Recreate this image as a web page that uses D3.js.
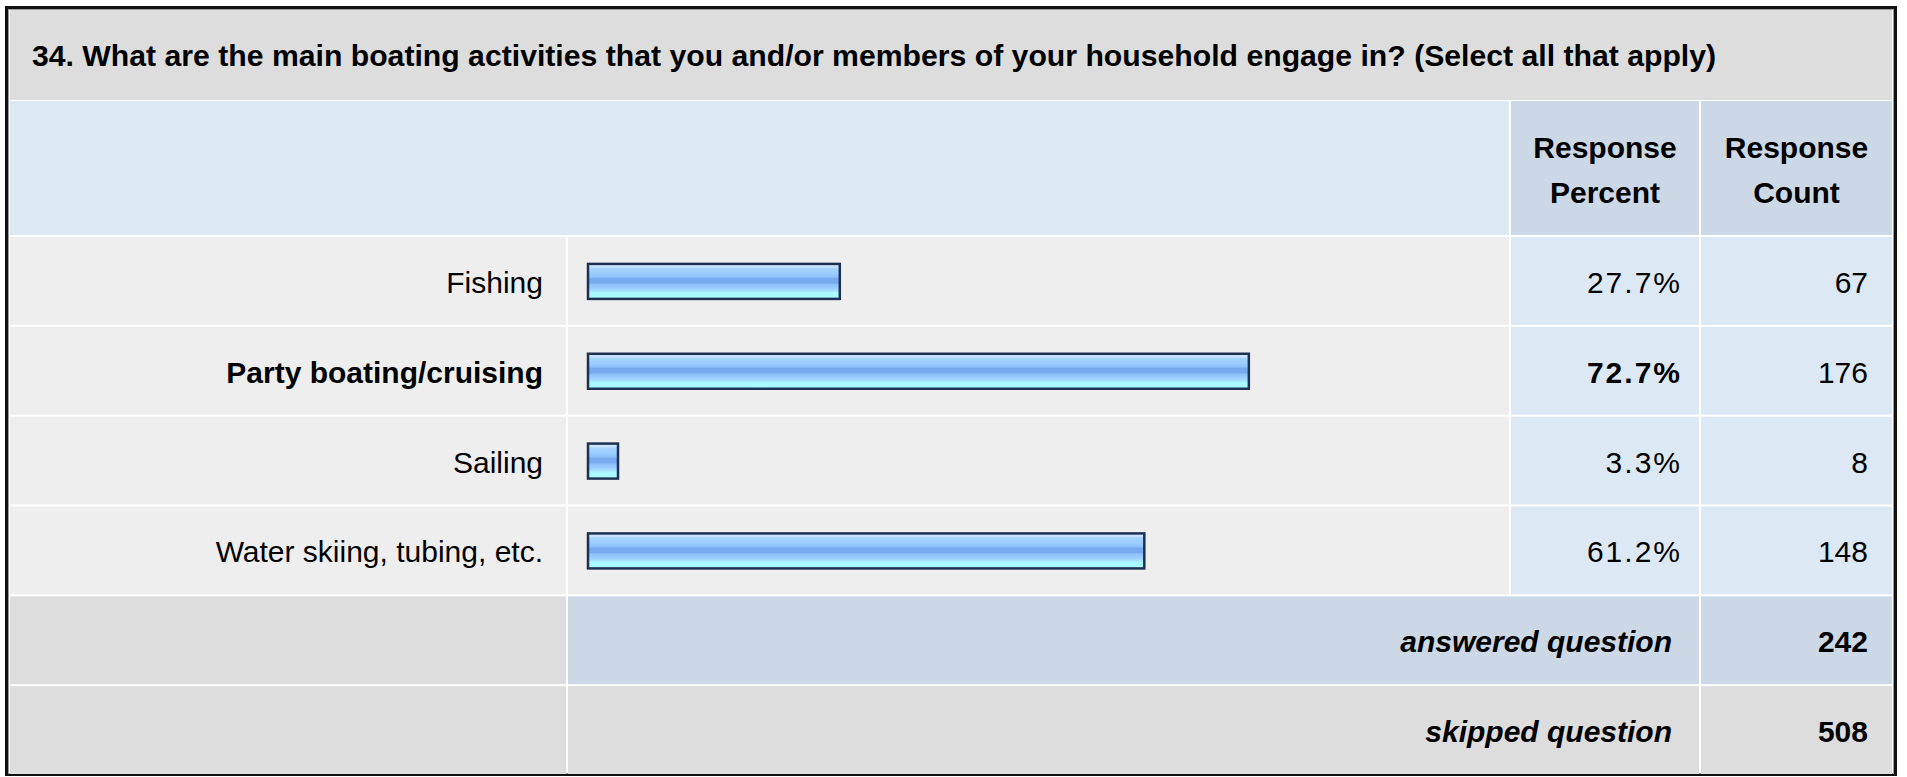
<!DOCTYPE html>
<html>
<head>
<meta charset="utf-8">
<script src="https://cdn.jsdelivr.net/npm/d3@7/dist/d3.min.js"></script>
<style>
  html, body { margin: 0; padding: 0; background: #ffffff; }
  svg { display: block; font-family: "Liberation Sans", Arial, Helvetica, sans-serif; }
</style>
</head>
<body>
<svg id="chart" width="1907" height="777"></svg>
<script>
// ---- data ----
const title = "34. What are the main boating activities that you and/or members of your household engage in? (Select all that apply)";
const categories = ["Fishing", "Party boating/cruising", "Sailing", "Water skiing, tubing, etc."];
const percents = [27.7, 72.7, 3.3, 61.2];
const counts = [67, 176, 8, 148];
const headerPercent = ["Response", "Percent"];
const headerCount = ["Response", "Count"];
const summaryLabels = ["answered question", "skipped question"];
const summaryValues = [242, 508];

// ---- layout ----
const W = 1907, H = 777;
const tLeft = 10, tRight = 1892, tTop = 10, tBottom = 774;
const labelRight = 566, barLeft = 568, barRight = 1509;
const pctLeft = 1511, pctRight = 1699, cntLeft = 1701, cntRight = 1892;
const titleBottom = 100, headerTop = 101, headerBottom = 235;
const gap = 2;
const FS = 30;

const svg = d3.select("#chart");
const defs = svg.append("defs");
const grad = defs.append("linearGradient").attr("id", "barGrad")
  .attr("x1", 0).attr("y1", 0).attr("x2", 0).attr("y2", 1);
[
  [0.00, "#d2e8ff"], [0.10, "#c2e0ff"], [0.12, "#a8d4ff"], [0.28, "#99ccff"],
  [0.38, "#8cc0fa"], [0.42, "#78aaf0"], [0.55, "#78aaf0"], [0.58, "#8cc0fa"],
  [0.68, "#99ccff"], [0.76, "#a6dcff"], [0.82, "#aaf6ff"], [1.00, "#aaffff"]
].forEach(([o, c]) => grad.append("stop").attr("offset", o).attr("stop-color", c));

// row band scale (data rows + 2 summary rows)
const rowKeys = categories.concat(summaryLabels);
const y = d3.scaleBand().domain(rowKeys).range([headerBottom + gap, tBottom + gap]).paddingInner(0).paddingOuter(0);
const rowH = y.bandwidth() - gap;

// bar scale
const x = d3.scaleLinear().domain([0, 100]).range([588, 1497]);

// outer frame
svg.append("rect").attr("x", 0).attr("y", 0).attr("width", W).attr("height", H).attr("fill", "#ffffff");
svg.append("rect").attr("x", 6.5).attr("y", 7.5).attr("width", 1889).attr("height", 767)
  .attr("fill", "#ffffff").attr("stroke", "#111111").attr("stroke-width", 3);
svg.append("rect").attr("x", 8.5).attr("y", 9.5).attr("width", 1885).attr("height", 764)
  .attr("fill", "none").attr("stroke", "#9a9a9a").attr("stroke-width", 1);

// title band
svg.append("rect").attr("x", tLeft).attr("y", tTop).attr("width", tRight - tLeft).attr("height", titleBottom - tTop).attr("fill", "#dddddd");
svg.append("text").attr("x", 32).attr("y", 66).attr("font-size", 30.2).attr("font-weight", "bold").attr("fill", "#000").text(title);

// header band
svg.append("rect").attr("x", tLeft).attr("y", headerTop).attr("width", pctLeft - gap - tLeft).attr("height", headerBottom - headerTop).attr("fill", "#dde8f5");
svg.append("rect").attr("x", pctLeft).attr("y", headerTop).attr("width", pctRight - pctLeft).attr("height", headerBottom - headerTop).attr("fill", "#ccd8e6");
svg.append("rect").attr("x", cntLeft).attr("y", headerTop).attr("width", cntRight - cntLeft).attr("height", headerBottom - headerTop).attr("fill", "#ccd8e6");
[[headerPercent, (pctLeft + pctRight) / 2], [headerCount, (cntLeft + cntRight) / 2]].forEach(([lines, cx]) => {
  lines.forEach((t, i) => {
    svg.append("text").attr("x", cx).attr("y", 158 + i * 45).attr("text-anchor", "middle")
      .attr("font-size", FS).attr("font-weight", "bold").attr("fill", "#000").text(t);
  });
});

// data rows
const maxP = d3.max(percents);
const rows = svg.append("g").selectAll("g").data(categories.map((c, i) => ({c, p: percents[i], n: counts[i]})))
  .join("g").attr("transform", d => `translate(0,${y(d.c)})`);
rows.append("rect").attr("x", tLeft).attr("y", 0).attr("width", labelRight - tLeft).attr("height", rowH).attr("fill", "#eeeeee");
rows.append("rect").attr("x", barLeft).attr("y", 0).attr("width", barRight - barLeft).attr("height", rowH).attr("fill", "#eeeeee");
rows.append("rect").attr("x", pctLeft).attr("y", 0).attr("width", pctRight - pctLeft).attr("height", rowH).attr("fill", "#dde8f5");
rows.append("rect").attr("x", cntLeft).attr("y", 0).attr("width", cntRight - cntLeft).attr("height", rowH).attr("fill", "#dde8f5");
rows.append("text").attr("x", 543).attr("y", rowH / 2 + 12).attr("text-anchor", "end")
  .attr("font-size", FS).attr("font-weight", d => d.p === maxP ? "bold" : "normal").attr("fill", "#000").text(d => d.c);
rows.append("rect").attr("x", x(0)).attr("y", rowH / 2 - 17)
  .attr("width", d => x(d.p) - x(0)).attr("height", 35)
  .attr("fill", "url(#barGrad)").attr("stroke", "#1e3152").attr("stroke-width", 2.5);
rows.append("text").attr("x", 1682).attr("y", rowH / 2 + 12).attr("text-anchor", "end")
  .attr("font-size", FS).attr("letter-spacing", 2).attr("font-weight", d => d.p === maxP ? "bold" : "normal").attr("fill", "#000")
  .text(d => d.p.toFixed(1) + "%");
rows.append("text").attr("x", 1868).attr("y", rowH / 2 + 12).attr("text-anchor", "end")
  .attr("font-size", FS).attr("fill", "#000").text(d => d.n);

// summary rows
const sums = svg.append("g").selectAll("g").data(summaryLabels.map((l, i) => ({l, v: summaryValues[i], i})))
  .join("g").attr("transform", d => `translate(0,${y(d.l)})`);
sums.append("rect").attr("x", tLeft).attr("y", 0).attr("width", labelRight - tLeft).attr("height", d => d.i === 1 ? tBottom - y(d.l) : rowH).attr("fill", "#dddddd");
sums.append("rect").attr("x", barLeft).attr("y", 0).attr("width", pctRight - barLeft).attr("height", d => d.i === 1 ? tBottom - y(d.l) : rowH)
  .attr("fill", d => d.i === 0 ? "#ccd8e6" : "#dddddd");
sums.append("rect").attr("x", cntLeft).attr("y", 0).attr("width", cntRight - cntLeft).attr("height", d => d.i === 1 ? tBottom - y(d.l) : rowH)
  .attr("fill", d => d.i === 0 ? "#ccd8e6" : "#dddddd");
sums.append("text").attr("x", 1672).attr("y", rowH / 2 + 12).attr("text-anchor", "end")
  .attr("font-size", FS).attr("font-weight", "bold").attr("font-style", "italic").attr("fill", "#000").text(d => d.l);
sums.append("text").attr("x", 1868).attr("y", rowH / 2 + 12).attr("text-anchor", "end")
  .attr("font-size", FS).attr("font-weight", "bold").attr("fill", "#000").text(d => d.v);
</script>
</body>
</html>
